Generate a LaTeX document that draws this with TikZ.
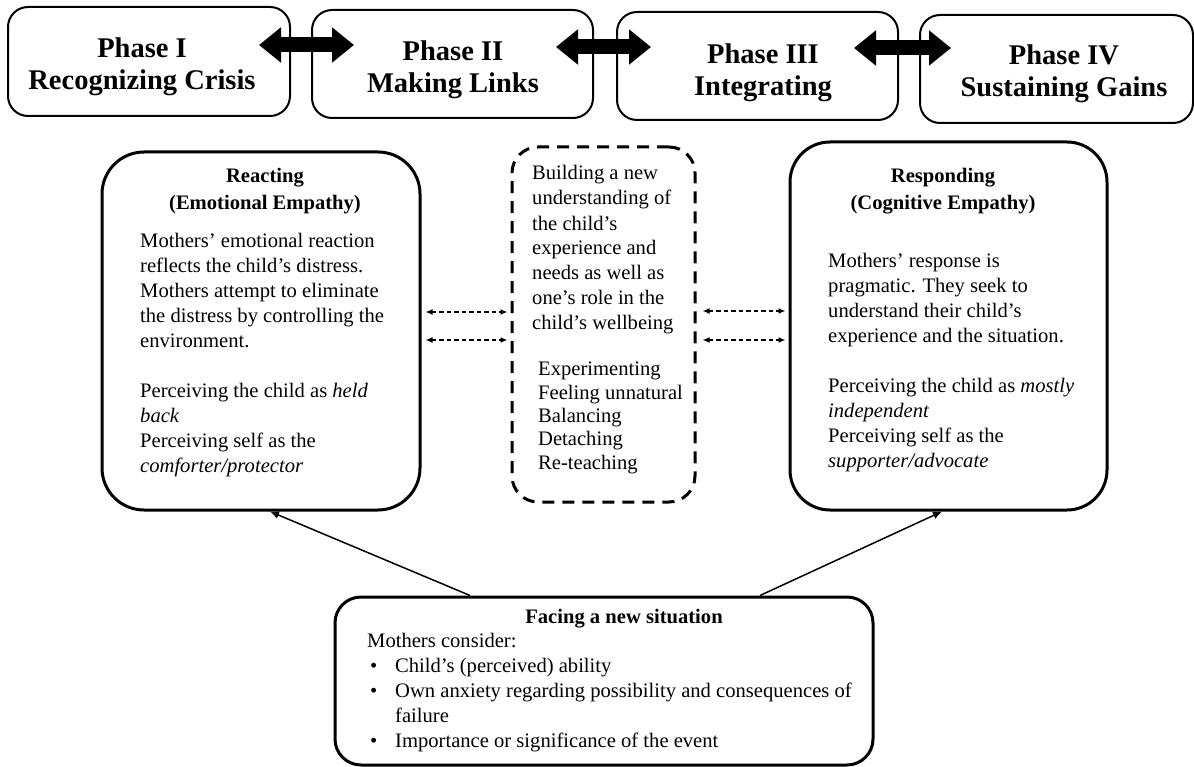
\documentclass[tikz,border=0pt]{standalone}
\usepackage{fontspec}
\setmainfont{Liberation Serif}
\usetikzlibrary{arrows.meta,calc}
\begin{document}
\begin{tikzpicture}[x=1pt,y=-1pt,
  phasebox/.style={draw, line width=2pt, rounded corners=20pt, inner sep=0pt},
  phasetext/.style={font=\fontsize{28.5}{32}\selectfont\bfseries, align=center, inner sep=0pt, anchor=base},
  mainbox/.style={draw, line width=3pt, rounded corners=42pt, inner sep=0pt},
  linkbox/.style={draw, line width=3pt, dash pattern=on 12pt off 8pt, rounded corners=26pt, inner sep=0pt},
  sitbox/.style={draw, line width=3pt, rounded corners=26pt, inner sep=0pt},
  blockarrow/.style={line width=15pt, {Triangle[length=22pt,width=34pt]}-{Triangle[length=22pt,width=34pt]}},
  linkarrow/.style={line width=1.5pt, dash pattern=on 4.5pt off 3pt,
    {Latex[length=7pt,width=6pt]}-{Latex[length=7pt,width=6pt]}},
  feedarrow/.style={line width=1.5pt, -{Latex[length=9pt,width=8pt]}},
  % multi-line text nodes are placed by the baseline of their last line
  bodytext/.style={font=\fontsize{20.6}{25}\selectfont, align=left, inner sep=0pt, anchor=base west},
  titletext/.style={font=\fontsize{20.6}{27}\selectfont\bfseries, align=center, inner sep=0pt, anchor=base},
]
\useasboundingbox (0,0) rectangle (1194,767);

% phase row
\node[phasebox, minimum width=282, minimum height=109] (p1) at (149,61.5) {};
\node[phasebox, minimum width=281, minimum height=108] (p2) at (452.5,64) {};
\node[phasebox, minimum width=281, minimum height=108] (p3) at (757.5,66) {};
\node[phasebox, minimum width=273, minimum height=108] (p4) at (1056.5,69) {};
\node[phasetext] (p1text) at (142,90) {Phase I\\Recognizing Crisis};
\node[phasetext] (p2text) at (453,93) {Phase II\\Making Links};
\node[phasetext] (p3text) at (763,96) {Phase III\\Integrating};
\node[phasetext] (p4text) at (1064,97) {Phase IV\\Sustaining Gains};

\draw[blockarrow] ($(p1.east |- 0,45)+(-32,0)$) -- ($(p2.west |- 0,45)+(43,0)$);
\draw[blockarrow] ($(p2.east |- 0,47)+(-38,0)$) -- ($(p3.west |- 0,47)+(35,0)$);
\draw[blockarrow] ($(p3.east |- 0,48)+(-45,0)$) -- ($(p4.west |- 0,48)+(32,0)$);

% reacting
\node[mainbox, minimum width=318, minimum height=358] (react) at (261,331) {};
\node[titletext] (reacttitle) at (265,210) {Reacting\\(Emotional Empathy)};
\node[bodytext] (reactbody) at (140,472) {Mothers' emotional reaction\\
reflects the child's distress.\\
Mothers attempt to eliminate\\
the distress by controlling the\\
environment.\\[25pt]
Perceiving the child as \textit{held}\\
\textit{back}\\
Perceiving self as the\\
\textit{comforter/protector}};

% building a new understanding
\node[linkbox, minimum width=183, minimum height=355] (link) at (603.5,324.5) {};
\node[bodytext] (linkbody) at (532,330) {Building a new\\
understanding of\\
the child's\\
experience and\\
needs as well as\\
one's role in the\\
child's wellbeing};
\node[bodytext, font=\fontsize{20.6}{23.3}\selectfont] (linklist) at (538,469) {Experimenting\\
Feeling unnatural\\
Balancing\\
Detaching\\
Re-teaching};

% responding
\node[mainbox, rounded corners=40pt, minimum width=317, minimum height=368] (resp) at (948.5,326) {};
\node[titletext] (resptitle) at (943,210) {Responding\\(Cognitive Empathy)};
\node[bodytext] (respbody) at (828,467) {Mothers' response is\\
pragmatic. They seek to\\
understand their child's\\
experience and the situation.\\[25pt]
Perceiving the child as \textit{mostly}\\
\textit{independent}\\
Perceiving self as the\\
\textit{supporter/advocate}};

% dashed links
\draw[linkarrow, shorten <=4pt, shorten >=3pt] (react.east |- 0,312) -- (link.west |- 0,312);
\draw[linkarrow, shorten <=4pt, shorten >=3pt] (react.east |- 0,340) -- (link.west |- 0,340);
\draw[linkarrow, shorten <=6pt, shorten >=3pt] (link.east |- 0,311) -- (resp.west |- 0,311);
\draw[linkarrow, shorten <=6pt, shorten >=3pt] (link.east |- 0,340) -- (resp.west |- 0,340);

% facing a new situation
\node[sitbox, minimum width=538, minimum height=168] (sit) at (604,681) {};
\node[titletext] (sittitle) at (624,623) {Facing a new situation};
\node[bodytext] (sitintro) at (367,647) {Mothers consider:};
\node[bodytext] (sitbullets) at (370,747) {•\\•\\[25pt]•};
\node[bodytext] (sitlist) at (395,747) {Child's (perceived) ability\\
Own anxiety regarding possibility and consequences of\\
failure\\
Importance or significance of the event};

\draw[feedarrow] (sit.north -| 470,0) -- (react.south -| 270,0);
\draw[feedarrow] (sit.north -| 760,0) -- (resp.south -| 942,0);
\end{tikzpicture}
\end{document}
